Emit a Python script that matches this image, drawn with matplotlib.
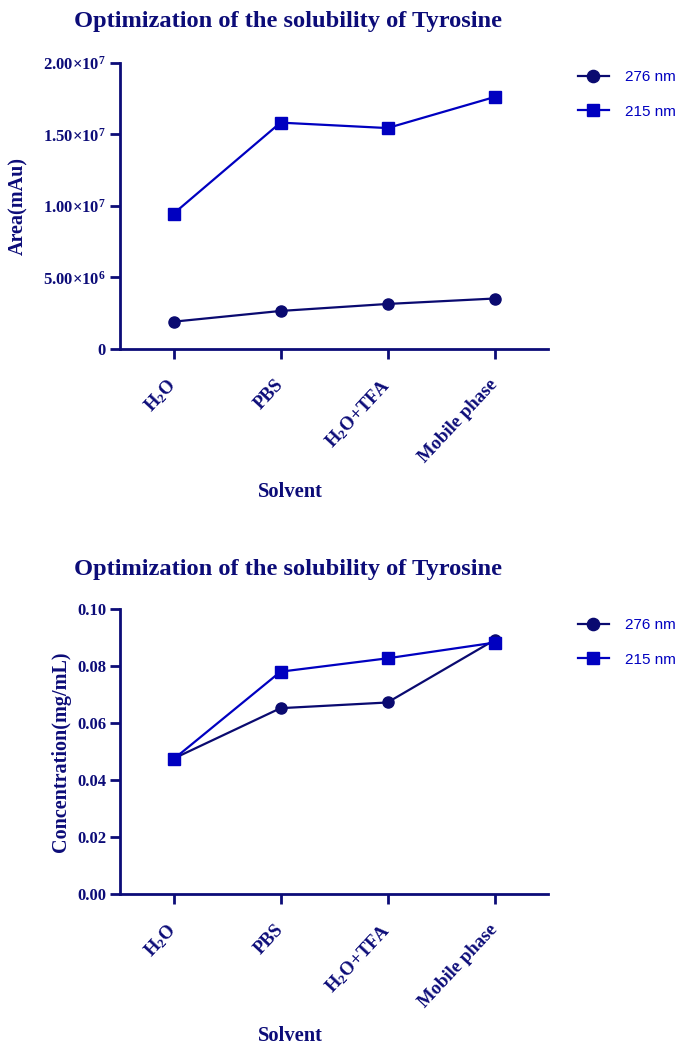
import matplotlib
matplotlib.use("Agg")
import matplotlib.pyplot as plt
from matplotlib.ticker import FixedLocator

plt.rcParams['mathtext.fontset'] = 'custom'
plt.rcParams['mathtext.rm'] = 'Liberation Serif:bold'
plt.rcParams['mathtext.bf'] = 'Liberation Serif:bold'
plt.rcParams['mathtext.it'] = 'Liberation Serif:bold'

solvents = [r'H$_2$O', 'PBS', r'H$_2$O+TFA', 'Mobile phase']
series_names = ['276 nm', '215 nm']

area_276 = [1.91e6, 2.66e6, 3.15e6, 3.53e6]
area_215 = [9.46e6, 1.583e7, 1.545e7, 1.762e7]

conc_276 = [0.0475, 0.0652, 0.0672, 0.0891]
conc_215 = [0.0473, 0.0780, 0.0827, 0.0882]

area_ticks = [0, 5e6, 1e7, 1.5e7, 2e7]
area_ticklabels = ['0', r'5.00$\times$10$^6$', r'1.00$\times$10$^7$',
                   r'1.50$\times$10$^7$', r'2.00$\times$10$^7$']
conc_ticks = [0.00, 0.02, 0.04, 0.06, 0.08, 0.10]
conc_ticklabels = ['0.00', '0.02', '0.04', '0.06', '0.08', '0.10']

title_text = 'Optimization of the solubility of Tyrosine'

NAVY = '#0c0c78'
C276 = '#0a0a70'
C215 = '#0000c0'
SERIF = ['Liberation Serif', 'DejaVu Serif']

fig = plt.figure(figsize=(6.78, 10.46), dpi=100)


def draw_panel(ax, y276, y215, ticks, ticklabels, ylabel, ymax, title_y, solvent_y,
               ylabel_x, legend_top):
    x = list(range(len(solvents)))
    ax.plot(x, y276, color=C276, lw=1.6, marker='o', ms=8.0, label=series_names[0],
            zorder=3, clip_on=False)
    ax.plot(x, y215, color=C215, lw=1.6, marker='s', ms=8.0, label=series_names[1],
            zorder=3, clip_on=False)
    ax.set_xlim(-0.5, 3.5)
    ax.set_ylim(0, ymax)
    for s in ['top', 'right']:
        ax.spines[s].set_visible(False)
    for s in ['left', 'bottom']:
        ax.spines[s].set_color(NAVY)
        ax.spines[s].set_linewidth(2.0)
    ax.yaxis.set_major_locator(FixedLocator(ticks))
    ax.set_yticklabels(ticklabels, fontfamily=SERIF, fontweight='bold', fontsize=12,
                       color=NAVY)
    ax.set_xticks(x)
    ax.set_xticklabels(solvents, rotation=47, ha='right', va='center',
                       rotation_mode='anchor', fontfamily=SERIF, fontweight='bold',
                       fontsize=13.5, color=NAVY)
    ax.tick_params(axis='both', direction='out', length=7, width=2.0, color=NAVY)
    ax.tick_params(axis='x', pad=17)
    ax.tick_params(axis='y', pad=3)
    fig.text(ylabel_x, (ax.get_position().y0 + ax.get_position().y1) / 2, ylabel,
             rotation=90, ha='center', va='center', fontfamily=SERIF,
             fontweight='bold', fontsize=14.5, color=NAVY)
    fig.text(288 / 678, 1 - title_y / 1046, title_text, ha='center', va='center',
             fontfamily=SERIF, fontweight='bold', fontsize=17.6, color=NAVY)
    fig.text(290 / 678, 1 - solvent_y / 1046, 'Solvent', ha='center', va='center',
             fontfamily=SERIF, fontweight='bold', fontsize=14.8, color=NAVY)
    leg = fig.legend(handles=ax.get_lines(), loc='upper left',
                     bbox_to_anchor=(578 / 678, 1 - legend_top / 1046), frameon=False,
                     handlelength=2.0, handletextpad=1.1, labelspacing=1.35,
                     markerscale=1.1, borderpad=0, borderaxespad=0,
                     prop={'family': 'Liberation Sans', 'size': 11})
    for t in leg.get_texts():
        t.set_color(C215)


ax1 = fig.add_axes([120 / 678, 1 - 349 / 1046, 428 / 678, 286 / 1046])
draw_panel(ax1, area_276, area_215, area_ticks, area_ticklabels, 'Area(mAu)',
           2e7, 22, 492, 18 / 678, 70)

ax2 = fig.add_axes([120 / 678, 1 - 894 / 1046, 428 / 678, 285 / 1046])
draw_panel(ax2, conc_276, conc_215, conc_ticks, conc_ticklabels, 'Concentration(mg/mL)',
           0.10, 570, 1036, 61 / 678, 618)

fig.savefig('out.png', dpi=100)
